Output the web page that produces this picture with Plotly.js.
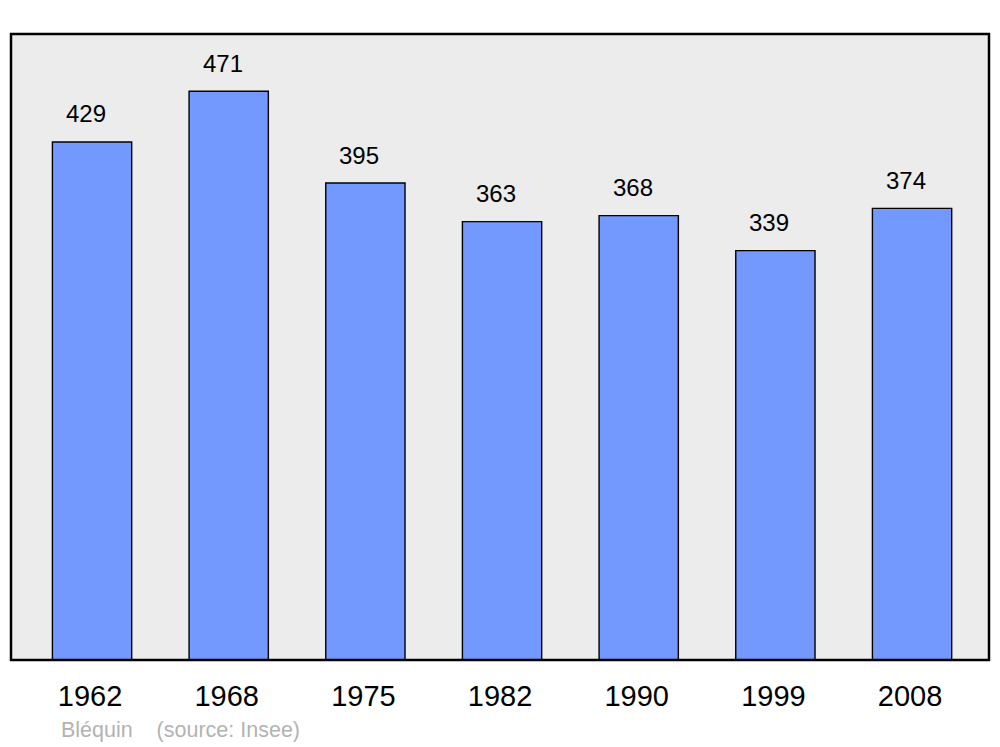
<!DOCTYPE html>
<html>
<head>
<meta charset="utf-8">
<script src="https://cdn.plot.ly/plotly-3.0.1.min.js"></script>
<style>html,body{margin:0;padding:0;background:#fff;}#chart{width:1000px;height:747px;}</style>
</head>
<body>
<div id="chart"></div>
<script>
const years = ["1962", "1968", "1975", "1982", "1990", "1999", "2008"];
const population = [429, 471, 395, 363, 368, 339, 374];
const footerAuthor = "Bléquin";
const footerSource = "(source: Insee)";

const font = "Liberation Sans, Arial, sans-serif";

const trace = {
  type: "bar",
  x: years,
  y: population,
  width: 0.58,
  marker: { color: "#7399ff", line: { color: "#000", width: 1.4 } },
  hoverinfo: "skip"
};

const annotations = years.map((yr, i) => ({
  x: i, y: population[i], xref: "x", yref: "y",
  text: String(population[i]), showarrow: false,
  yanchor: "middle", yshift: 28, xshift: -6,
  font: { family: font, size: 24, color: "#000" }
}));
annotations.push({
  xref: "paper", yref: "paper", x: 48 / 978, y: -70 / 626,
  xanchor: "left", yanchor: "middle", showarrow: false,
  text: footerAuthor + "\u00a0\u00a0\u00a0\u00a0" + footerSource,
  font: { family: font, size: 21.5, color: "#b3b3b3" }
});

const layout = {
  width: 1000, height: 747,
  margin: { l: 11, r: 11, t: 34, b: 87 },
  paper_bgcolor: "#fff",
  plot_bgcolor: "#ececec",
  showlegend: false,
  xaxis: {
    type: "category",
    range: [-0.593, 6.563],
    showgrid: false, zeroline: false, showline: false,
    ticks: "", ticklabelstandoff: 16, ticklabelshift: -2,
    tickfont: { family: font, size: 29, color: "#000" },
    fixedrange: true
  },
  yaxis: {
    range: [0, 518.4],
    showgrid: false, zeroline: false, showline: false,
    showticklabels: false, ticks: "",
    fixedrange: true
  },
  shapes: [{
    type: "rect", xref: "paper", yref: "paper",
    x0: 0, x1: 1, y0: 0, y1: 1,
    line: { color: "#000", width: 2.5 }
  }],
  annotations: annotations
};

Plotly.newPlot("chart", [trace], layout, { displayModeBar: false, staticPlot: true });
</script>
</body>
</html>
